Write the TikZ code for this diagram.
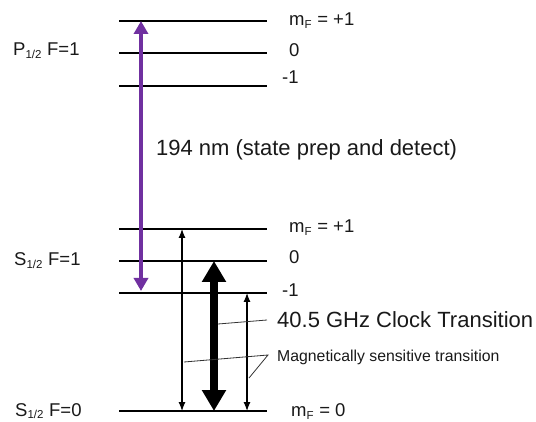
\documentclass[tikz,border=0pt]{standalone}
\usepackage{fontspec}
\setmainfont{Liberation Sans}
\usetikzlibrary{arrows.meta}
\definecolor{lvpurple}{RGB}{112,48,160}
\definecolor{txt}{RGB}{25,25,25}
\begin{document}
\begin{tikzpicture}[x=1pt,y=-1pt,
  level/.style={line width=1.1pt,black},
  lbl/.style={inner sep=0pt,anchor=base west,text=txt,font=\fontsize{18.5}{20}\selectfont},
  big/.style={inner sep=0pt,anchor=base west,text=txt,font=\fontsize{22}{24}\selectfont},
  small/.style={inner sep=0pt,anchor=base west,text=txt,font=\fontsize{15.8}{17}\selectfont},
  thinarr/.style={line width=1.2pt,{Latex[width=7pt,length=9pt]}-{Latex[width=7pt,length=9pt]}},
  note/.style={line width=0.8pt,black!80}]
\useasboundingbox (0,0) rectangle (536,422);
% level lines
\foreach \n/\y in {p1/21,p0/53,pm/86,s1/229,s0/261,sm/293,g/411}{
  \coordinate (\n L) at (119,\y);
  \coordinate (\n R) at (267,\y);
  \draw[level] (\n L) -- (\n R);
}
% left labels
\node[lbl] (lp) at (13,56) {P\textsubscript{\fontsize{11.5}{12}\selectfont 1/2} F=1};
\node[lbl] (ls) at (14,266) {S\textsubscript{\fontsize{11.5}{12}\selectfont 1/2} F=1};
\node[lbl] (lg) at (15,416) {S\textsubscript{\fontsize{11.5}{12}\selectfont 1/2} F=0};
% right labels
\node[lbl] (rp1) at (289,26) {m\textsubscript{\fontsize{11.5}{12}\selectfont F} = +1};
\node[lbl] (rp0) at (289,57) {0};
\node[lbl] (rpm) at (282,84) {-1};
\node[lbl] (rs1) at (289,233) {m\textsubscript{\fontsize{11.5}{12}\selectfont F} = +1};
\node[lbl] (rs0) at (289,264) {0};
\node[lbl] (rsm) at (282,297) {-1};
\node[lbl] (rg) at (291,417) {m\textsubscript{\fontsize{11.5}{12}\selectfont F} = 0};
% texts
\node[big] (t194) at (156,156) {194 nm (state prep and detect)};
\node[big] (tclk) at (277,327) {40.5 GHz Clock Transition};
\node[small] (tmag) at (277,361) {Magnetically sensitive transition};
% arrows
\coordinate (pa1) at (141,21);
\coordinate (pa2) at (141,291);
\draw[lvpurple,line width=4pt,{Triangle[width=14pt,length=13pt]}-{Triangle[width=14pt,length=13pt]}] (pa1) -- (pa2);
\coordinate (a1t) at (182,229);
\coordinate (a1b) at (182,411);
\draw[thinarr] (a1t) -- (a1b);
\coordinate (ckt) at (214,261);
\coordinate (ckb) at (214,411);
\draw[line width=8pt,{Triangle[width=23pt,length=21pt]}-{Triangle[width=23pt,length=21pt]}] (ckt) -- (ckb);
\coordinate (a2t) at (247,293);
\coordinate (a2b) at (247,411);
\draw[thinarr] (a2t) -- (a2b);
% annotation lines
\coordinate (n1a) at (218,324);
\coordinate (n1b) at (267,320);
\draw[note] (n1a) -- (n1b);
\coordinate (n2a) at (184,362);
\coordinate (n2v) at (268,355);
\coordinate (n2b) at (249,378);
\draw[note] (n2a) -- (n2v) -- (n2b);
\end{tikzpicture}
\end{document}
